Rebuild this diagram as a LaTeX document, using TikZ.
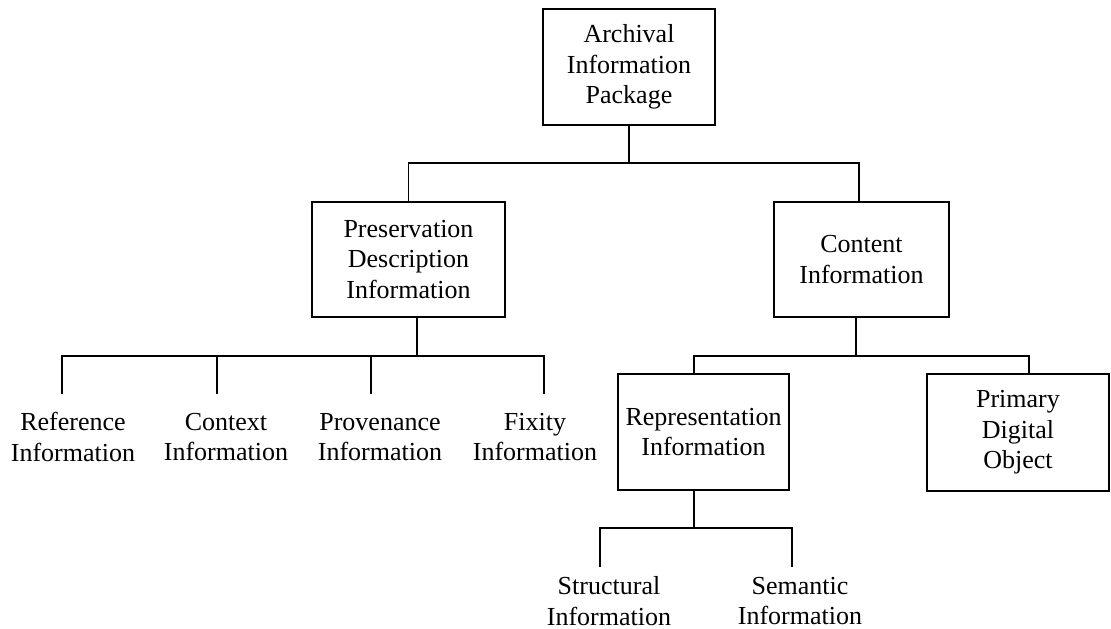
\documentclass[tikz,border=0pt]{standalone}
\usepackage{fontspec}
\setmainfont{Liberation Serif}
\begin{document}
\begin{tikzpicture}[x=1pt,y=-1pt,
  every node/.style={font=\fontsize{26}{30.5}\selectfont},
  box/.style={draw,line width=1.6pt,align=center,inner sep=0pt},
  lbl/.style={align=center,inner sep=0pt},
  wire/.style={line width=1.6pt}]
\useasboundingbox (0,0) rectangle (1111,629);

% boxes
\node[box,minimum width=172pt,minimum height=116pt] (aip) at (629,67) {Archival\\Information\\Package};
\node[box,minimum width=193pt,minimum height=115pt] (pdi) at (408.5,259.5) {Preservation\\Description\\Information};
\node[box,minimum width=175pt,minimum height=115pt] (ci) at (861.5,259.5) {Content\\Information};
\node[box,minimum width=171pt,minimum height=116pt] (rep) at (703.5,432) {Representation\\Information};
\node[box,minimum width=182pt,minimum height=117pt] (pdo) at (1018,432.5) {Primary\\Digital\\Object};

% leaf labels
\node[lbl] (ref) at (73,437) {Reference\\Information};
\node[lbl] (ctx) at (226,437) {Context\\Information};
\node[lbl] (prov) at (380,437) {Provenance\\Information};
\node[lbl] (fix) at (535,437) {Fixity\\Information};
\node[lbl] (str) at (609,601) {Structural\\Information};
\node[lbl] (sem) at (800,601) {Semantic\\Information};

% junctions and line ends
\coordinate (j0) at (629,163);
\coordinate (j1) at (417,356);
\coordinate (j2) at (856,356);
\coordinate (j3) at (694,528);
\coordinate (t1) at (62,394);
\coordinate (t2) at (217,394);
\coordinate (t3) at (371,394);
\coordinate (t4) at (544,394);
\coordinate (s1) at (600,567);
\coordinate (s2) at (792,567);

% AIP to its two parts
\draw[wire] (aip.south) -- (j0);
\draw[wire] (pdi.north) |- (j0) -| ([xshift=-2.5pt]ci.north);

% PDI to its four kinds of information
\draw[wire] (pdi.south -| j1) -- (j1);
\draw[wire] (t1) |- (j1) -| (t4);
\draw[wire] (t2) -- (t2 |- j1);
\draw[wire] (t3) -- (t3 |- j1);

% content information
\draw[wire] (ci.south -| j2) -- (j2);
\draw[wire] ([xshift=-9.5pt]rep.north) |- (j2) -| ([xshift=11pt]pdo.north);

% representation information
\draw[wire] ([xshift=-9.5pt]rep.south) -- (j3);
\draw[wire] (s1) |- (j3) -| (s2);
\end{tikzpicture}
\end{document}
